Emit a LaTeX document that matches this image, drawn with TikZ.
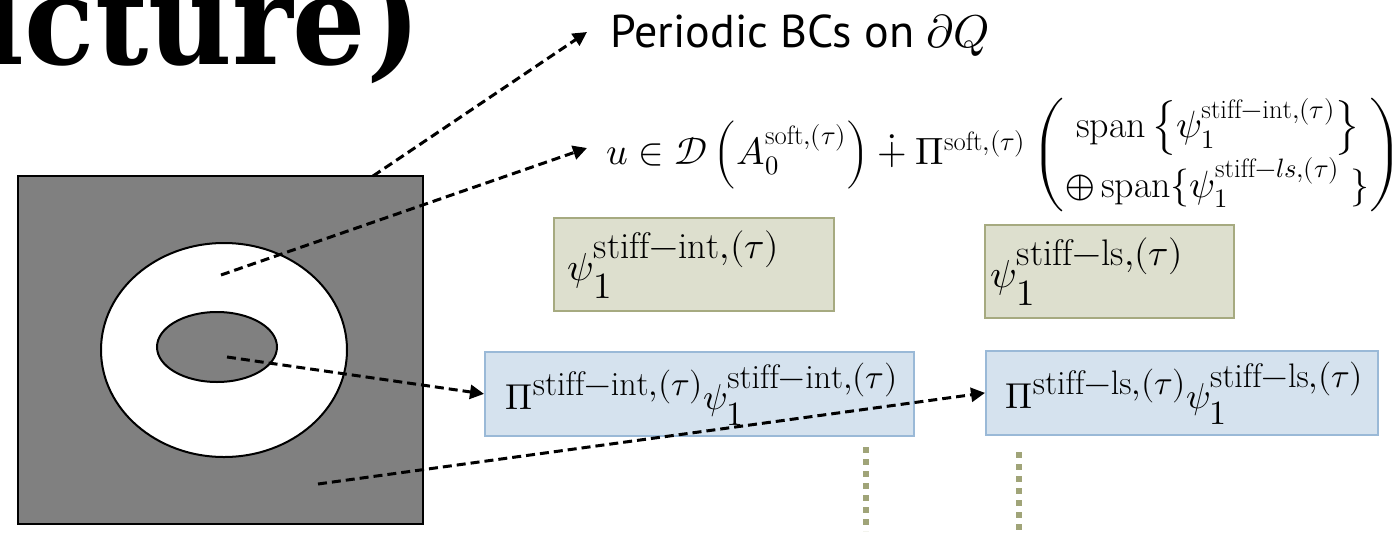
\documentclass[tikz,border=0pt]{standalone}
\usepackage{fontspec}
\usepackage{unicode-math}
\setmathfont{Latin Modern Math}
\setsansfont{PT Sans}
\newfontfamily\titlefont{DejaVu Serif}
\usetikzlibrary{arrows.meta, positioning, calc}
\definecolor{cellgray}{RGB}{128,128,128}
\definecolor{psifill}{RGB}{221,223,206}
\definecolor{psiline}{RGB}{166,170,128}
\definecolor{projfill}{RGB}{213,226,238}
\definecolor{projline}{RGB}{154,185,215}
\definecolor{dotolive}{RGB}{160,164,120}
\DeclareMathSizes{39}{39}{37}{26}
\DeclareMathSizes{36}{36}{34}{24}

\begin{document}
\begin{tikzpicture}[x=1pt, y=-1pt,
  psibox/.style={rectangle, draw=psiline, fill=psifill, line width=1.8pt, align=left, anchor=north west, font=\fontsize{39}{44}\selectfont},
  projbox/.style={rectangle, draw=projline, fill=projfill, line width=1.8pt, align=left, anchor=north west, font=\fontsize{36}{40}\selectfont},
  link/.style={line width=3pt, dash pattern=on 9pt off 5pt, -{Triangle[length=14pt, width=14pt]}},
  stub/.style={line width=6pt, dotolive, dash pattern=on 6pt off 6pt},
]
  \useasboundingbox (0,0) rectangle (1396,533);

  % slide title, cut by the page edge
  \node[anchor=base east, inner sep=0pt, font=\titlefont\bfseries\fontsize{124}{126}\selectfont] (title) at (421,64) {\scalebox{0.93}[1]{icture)}};

  % periodicity cell with inclusion and soft ring
  \draw[line width=2.4pt, fill=cellgray] (18,176) rectangle (423,524);
  \draw[line width=2pt, fill=white] (224,350) ellipse [x radius=123, y radius=107];
  \draw[line width=2pt, fill=cellgray] (217,347) ellipse [x radius=60, y radius=35];
  \coordinate (bdry) at (373,176);
  \coordinate (softpt) at (221,275);
  \coordinate (inclpt) at (227,357);
  \coordinate (matpt) at (318,484);

  \node[anchor=base west, inner sep=0pt, font=\sffamily\fontsize{46}{52}\selectfont] (bcs) at (610,47) {Periodic BCs on $\partial Q$};
  \node[anchor=base west, inner sep=0pt, font=\fontsize{38}{46}\selectfont] (domain) at (606,164) {$u \in \mathcal{D}\left(A_0^{\mathrm{soft},(\tau)}\right) \dotplus \Pi^{\mathrm{soft},(\tau)}
    \left(\begin{array}{@{}c@{}}
      \mathrm{span}\left\{\psi_1^{\mathrm{stiff{-}int},(\tau)}\right\}\\[6pt]
      \oplus\,\mathrm{span}\{\psi_1^{\mathrm{stiff}{-}ls,(\tau)}\ \}
    \end{array}\right)$};

  \node[psibox, minimum width=280pt, minimum height=93pt, text width=252pt, inner xsep=14pt] (psiint) at (553,217) {$\psi_1^{\mathrm{stiff{-}int},(\tau)}$};
  \node[psibox, minimum width=249pt, minimum height=93pt, text width=237pt, inner xsep=6pt] (psils) at (984,224) {$\psi_1^{\mathrm{stiff{-}ls},(\tau)}$};

  \node[projbox, minimum width=429pt, minimum height=84pt, text width=387pt, inner xsep=21pt] (projint) at (484,351) {$\Pi^{\mathrm{stiff{-}int},(\tau)}\psi_1^{\mathrm{stiff{-}int},(\tau)}$};
  \node[projbox, minimum width=392pt, minimum height=84pt, text width=352pt, inner xsep=20pt] (projls) at (985,350) {$\Pi^{\mathrm{stiff{-}ls},(\tau)}\psi_1^{\mathrm{stiff{-}ls},(\tau)}$};

  \coordinate (stubA) at (866,447);
  \coordinate (stubB) at (1019,452);
  \draw[stub] (stubA) -- ++(0,84);
  \draw[stub] (stubB) -- ++(0,84);

  \draw[link] (bdry) -- ([xshift=-23pt,yshift=15pt]bcs.base west);
  \draw[link] (softpt) -- ([xshift=-19pt,yshift=16pt]domain.base west);
  \draw[link] (inclpt) -- (projint.west);
  \draw[link] (matpt) -- (projls.west);
\end{tikzpicture}
\end{document}
